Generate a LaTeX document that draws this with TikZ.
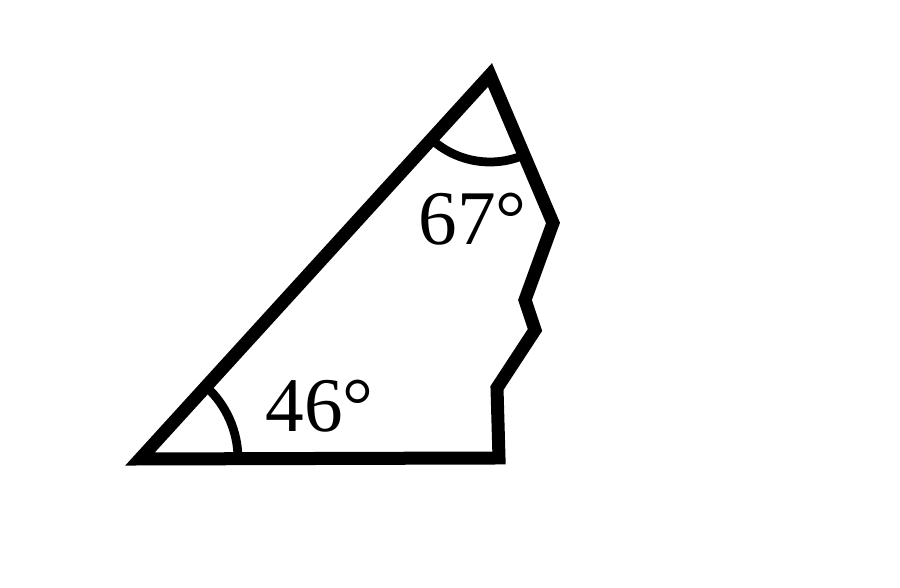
\documentclass[tikz,border=0pt]{standalone}
\usepackage{fontspec}
\setmainfont{Liberation Serif}
\usepackage{tikz}

\begin{document}
\begin{tikzpicture}[line join=miter]
\useasboundingbox (0,0) rectangle (18,11.76);
\coordinate (A) at (2.8,2.58);
\coordinate (B) at (9.8,10.26);
\coordinate (C) at (11.06,7.3);
\coordinate (D) at (10.5,5.76);
\coordinate (E) at (10.7,5.16);
\coordinate (F) at (9.94,4.0);
\coordinate (G) at (9.98,2.6);
\draw[line width=7.4pt] (A) -- (B) -- (C) -- (D) -- (E) -- (F) -- (G) -- cycle;
\draw[line width=5pt] ([shift={(0:1.96)}]A) arc[start angle=0,end angle=47.7,radius=1.96];
\draw[line width=5pt] ([shift={(227.7:1.74)}]B) arc[start angle=227.7,end angle=293.1,radius=1.74];
\node[anchor=base west,inner sep=0pt,font=\fontsize{44}{44}\selectfont] (a46) at (5.3,3.12) {46°};
\node[anchor=base west,inner sep=0pt,font=\fontsize{44}{44}\selectfont] (a67) at (8.36,6.86) {67°};
\end{tikzpicture}
\end{document}
